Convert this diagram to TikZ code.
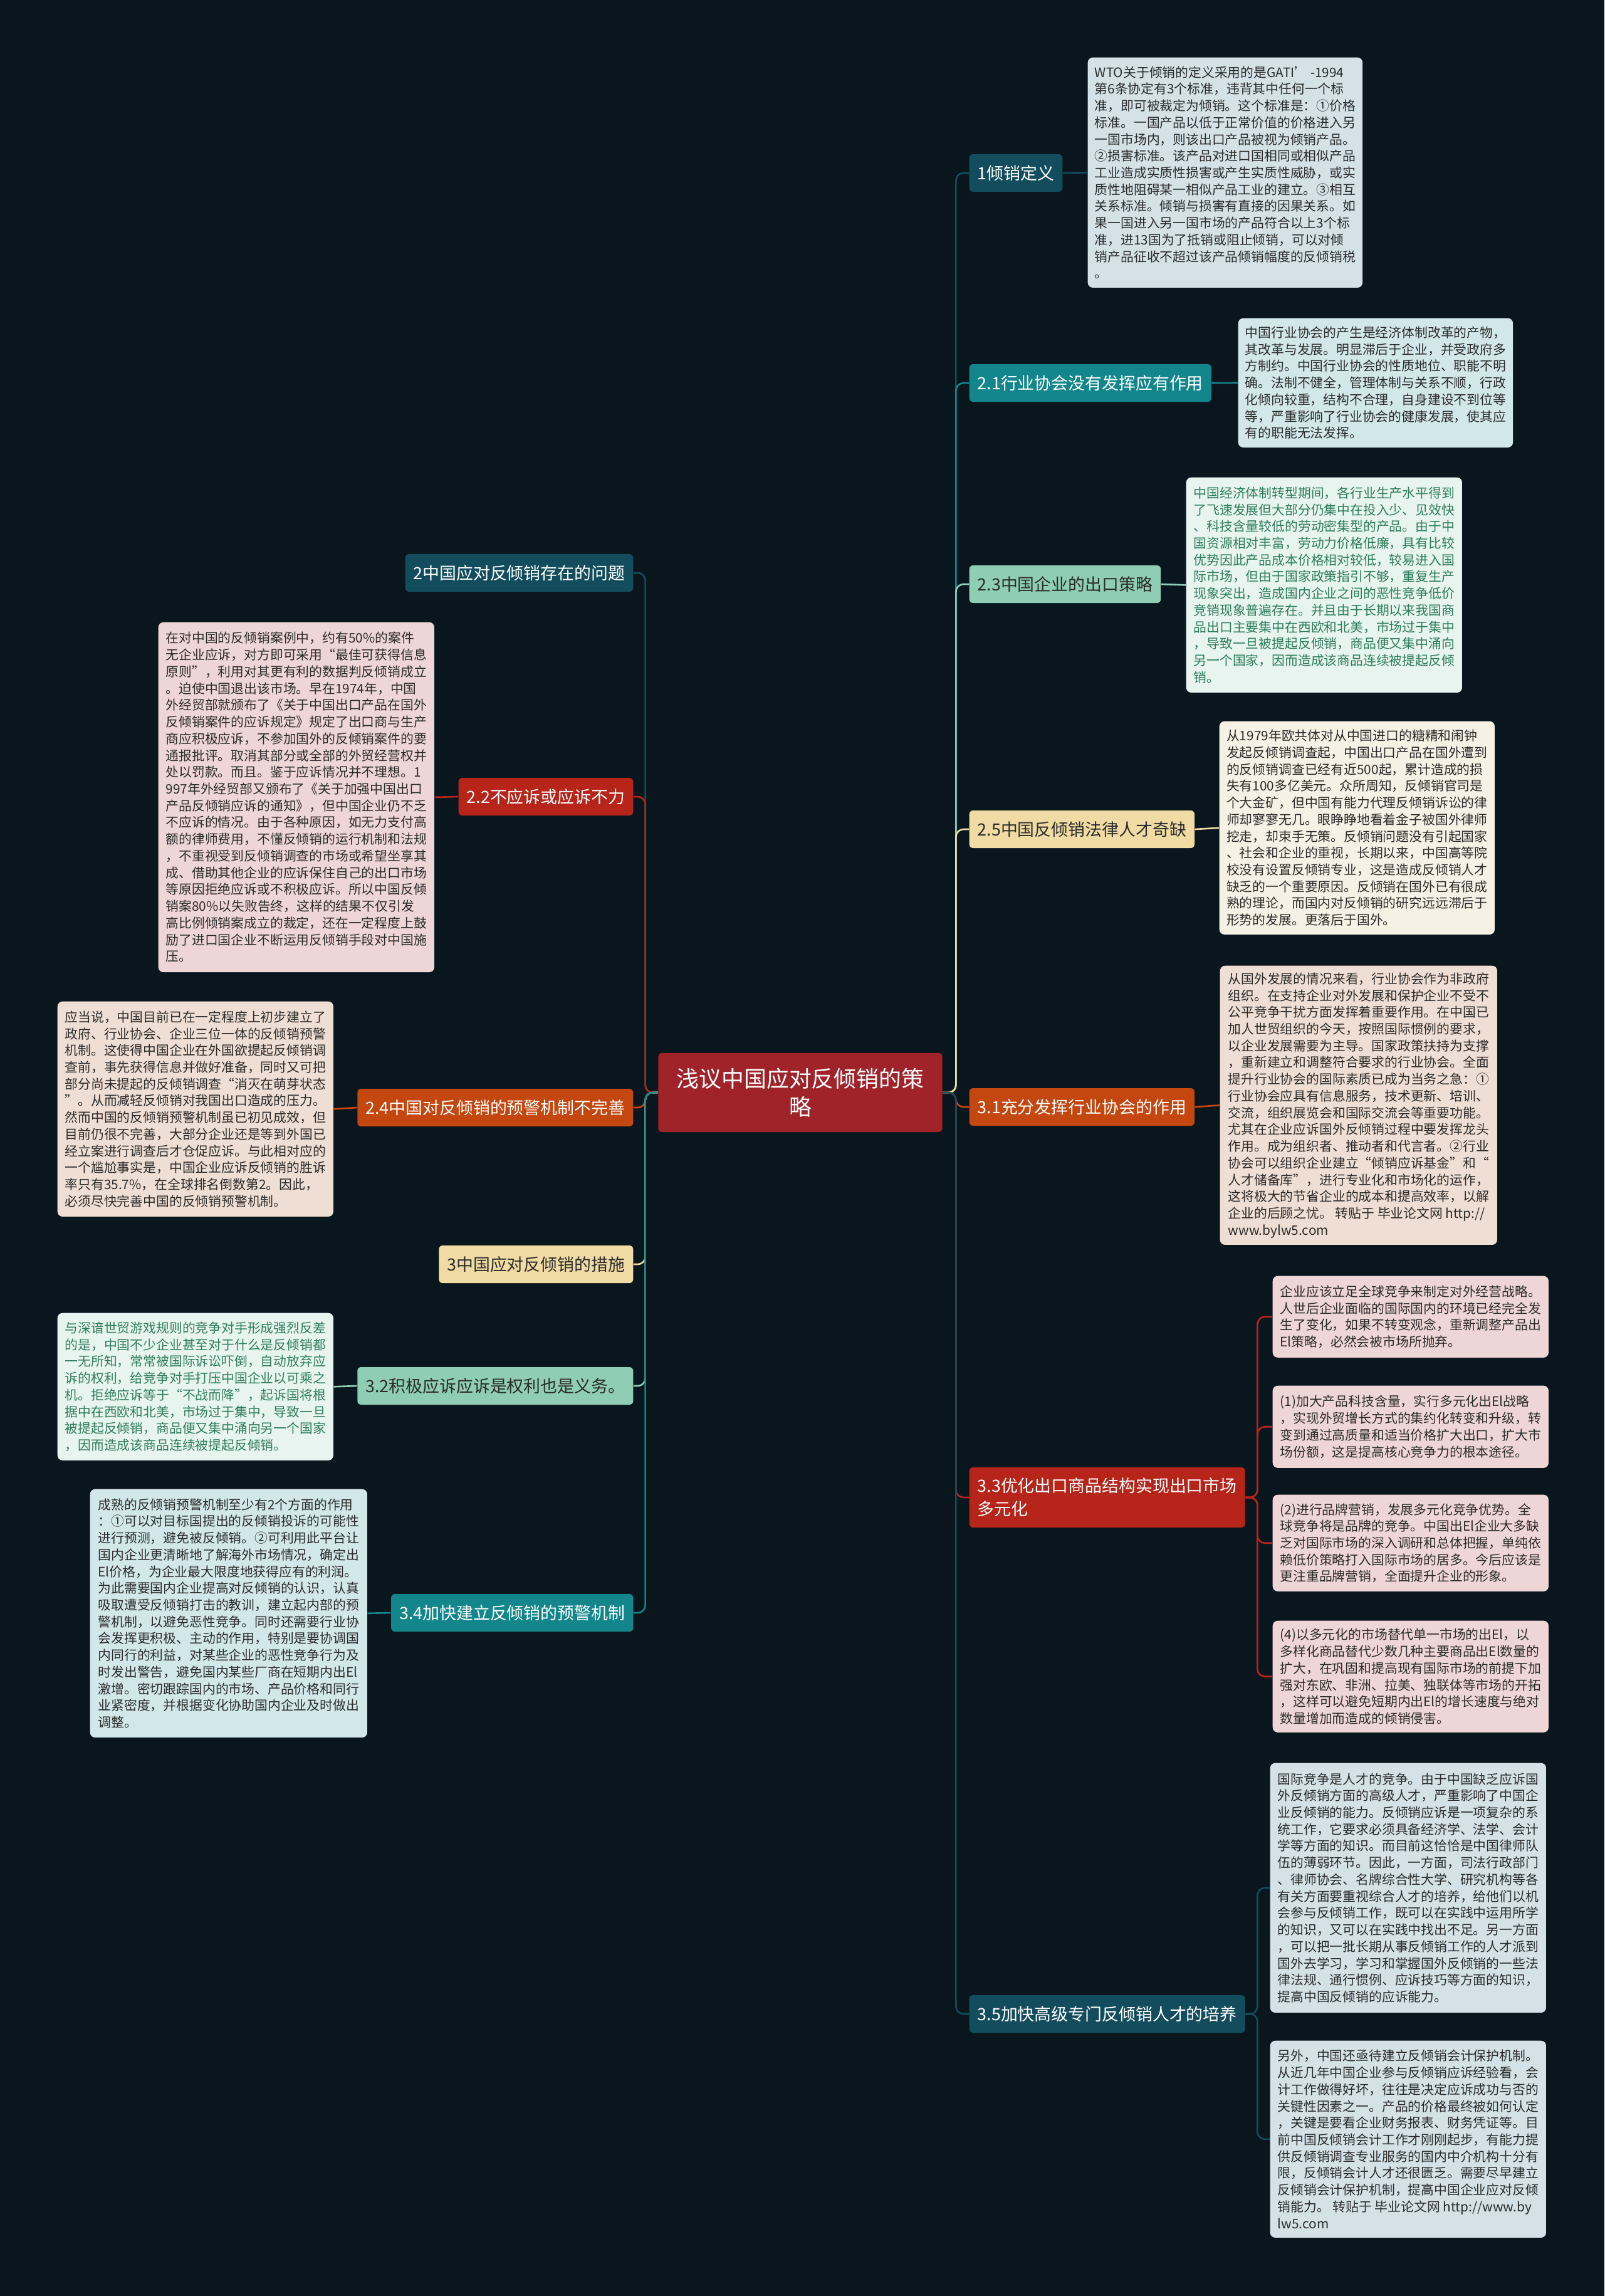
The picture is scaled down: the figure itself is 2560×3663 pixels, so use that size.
\documentclass[tikz,border=0pt]{standalone}
\usepackage{fontspec}
\newfontfamily\cjk{Noto Sans CJK SC}
\usepackage{tikz}
\usetikzlibrary{calc}
\usepackage{xcolor}
\definecolor{bgdark}{HTML}{0A161E}
\definecolor{rootred}{HTML}{A0232A}
\definecolor{darkteal}{HTML}{134D5D}
\definecolor{midteal}{HTML}{12868A}
\definecolor{mint}{HTML}{8FCEB5}
\definecolor{sand}{HTML}{F1DBA4}
\definecolor{rust}{HTML}{C4470F}
\definecolor{brick}{HTML}{B6241A}
\definecolor{inkdark}{HTML}{2B2B2B}
\definecolor{inkgreen}{HTML}{2F7D5C}
\definecolor{paperblue}{HTML}{D4E2E7}
\definecolor{papercyan}{HTML}{D2E7E9}
\definecolor{papermint}{HTML}{E7F4EF}
\definecolor{papercream}{HTML}{F6F1E5}
\definecolor{paperbeige}{HTML}{EFDED4}
\definecolor{paperpink}{HTML}{EFD6D6}
\tikzset{
	root/.style={fill=rootred,text=white,rounded corners=0.06cm,align=center,
		font=\cjk\fontsize{10.2}{13}\selectfont,minimum width=4.53cm,minimum height=1.26cm,inner sep=0pt},
	topic/.style={rounded corners=0.06cm,align=left,inner xsep=0.13cm,inner ysep=0.1cm,
		font=\cjk\fontsize{7.65}{10.5}\selectfont,minimum height=0.6cm},
	dark/.style={text=white},
	light/.style={text=inkdark},
	note/.style={rounded corners=0.08cm,align=left,anchor=north west,inner xsep=0.11cm,inner ysep=0.08cm,
		font=\cjk\fontsize{5.92}{7.6}\selectfont,text=inkdark},
	link/.style={line width=0.75pt,rounded corners=0.12cm}
}
\begin{document}
\begin{tikzpicture}[x=0.01cm,y=-0.01cm]
\fill[bgdark] (0,0) rectangle (2560,3663);
\useasboundingbox (0,0) rectangle (2560,3663);
%
\node[root] (root) at (1277,1743) {浅议中国应对反倾销的策\\略};
%
% right side topics
\node[topic,dark,fill=darkteal,anchor=west] (n1) at (1546,276) {1倾销定义};
\node[topic,dark,fill=midteal,anchor=west] (n21) at (1546,611) {2.1行业协会没有发挥应有作用};
\node[topic,light,fill=mint,anchor=west] (n23) at (1546,932) {2.3中国企业的出口策略};
\node[topic,light,fill=sand,anchor=west] (n25) at (1546,1323) {2.5中国反倾销法律人才奇缺};
\node[topic,dark,fill=rust,anchor=west] (n31) at (1546,1766) {3.1充分发挥行业协会的作用};
\node[topic,dark,fill=brick,anchor=west,minimum height=0.96cm] (n33) at (1546,2389) {3.3优化出口商品结构实现出口市场\\多元化};
\node[topic,dark,fill=darkteal,anchor=west] (n35) at (1546,3213) {3.5加快高级专门反倾销人才的培养};
%
% left side topics
\node[topic,dark,fill=darkteal,anchor=east] (n2) at (1011,914) {2中国应对反倾销存在的问题};
\node[topic,dark,fill=brick,anchor=east] (n22) at (1011,1271) {2.2不应诉或应诉不力};
\node[topic,dark,fill=rust,anchor=east] (n24) at (1011,1767) {2.4中国对反倾销的预警机制不完善};
\node[topic,light,fill=sand,anchor=east] (n3) at (1011,2017) {3中国应对反倾销的措施};
\node[topic,light,fill=mint,anchor=east] (n32) at (1011,2211) {3.2积极应诉应诉是权利也是义务。};
\node[topic,dark,fill=midteal,anchor=east] (n34) at (1011,2573) {3.4加快建立反倾销的预警机制};
%
% notes, right
\node[note,fill=paperblue,minimum width=4.38cm,minimum height=3.67cm] (d1) at (1735,91) {WTO关于倾销的定义采用的是GATI’ -1994\\第6条协定有3个标准，违背其中任何一个标\\准，即可被裁定为倾销。这个标准是：①价格\\标准。一国产品以低于正常价值的价格进入另\\一国市场内，则该出口产品被视为倾销产品。\\②损害标准。该产品对进口国相同或相似产品\\工业造成实质性损害或产生实质性威胁，或实\\质性地阻碍某一相似产品工业的建立。③相互\\关系标准。倾销与损害有直接的因果关系。如\\果一国进入另一国市场的产品符合以上3个标\\准，进13国为了抵销或阻止倾销，可以对倾\\销产品征收不超过该产品倾销幅度的反倾销税\\。};
\node[note,fill=papercyan,minimum width=4.37cm,minimum height=2.06cm] (d2) at (1975,507) {中国行业协会的产生是经济体制改革的产物，\\其改革与发展。明显滞后于企业，并受政府多\\方制约。中国行业协会的性质地位、职能不明\\确。法制不健全，管理体制与关系不顺，行政\\化倾向较重，结构不合理，自身建设不到位等\\等，严重影响了行业协会的健康发展，使其应\\有的职能无法发挥。};
\node[note,fill=papermint,text=inkgreen,minimum width=4.4cm,minimum height=3.43cm] (d3) at (1892,761) {中国经济体制转型期间，各行业生产水平得到\\了飞速发展但大部分仍集中在投入少、见效快\\、科技含量较低的劳动密集型的产品。由于中\\国资源相对丰富，劳动力价格低廉，具有比较\\优势因此产品成本价格相对较低，较易进入国\\际市场，但由于国家政策指引不够，重复生产\\现象突出，造成国内企业之间的恶性竞争低价\\竞销现象普遍存在。并且由于长期以来我国商\\品出口主要集中在西欧和北美，市场过于集中\\，导致一旦被提起反倾销，商品便又集中涌向\\另一个国家，因而造成该商品连续被提起反倾\\销。};
\node[note,fill=papercream,minimum width=4.39cm,minimum height=3.4cm] (d4) at (1945,1150) {从1979年欧共体对从中国进口的糖精和闹钟\\发起反倾销调查起，中国出口产品在国外遭到\\的反倾销调查已经有近500起，累计造成的损\\失有100多亿美元。众所周知，反倾销官司是\\个大金矿，但中国有能力代理反倾销诉讼的律\\师却寥寥无几。眼睁睁地看着金子被国外律师\\挖走，却束手无策。反倾销问题没有引起国家\\、社会和企业的重视，长期以来，中国高等院\\校没有设置反倾销专业，这是造成反倾销人才\\缺乏的一个重要原因。反倾销在国外已有很成\\熟的理论，而国内对反倾销的研究远远滞后于\\形势的发展。更落后于国外。};
\node[note,fill=paperbeige,minimum width=4.42cm,minimum height=4.45cm] (d5) at (1946,1540) {从国外发展的情况来看，行业协会作为非政府\\组织。在支持企业对外发展和保护企业不受不\\公平竞争干扰方面发挥着重要作用。在中国已\\加人世贸组织的今天，按照国际惯例的要求，\\以企业发展需要为主导。国家政策扶持为支撑\\，重新建立和调整符合要求的行业协会。全面\\提升行业协会的国际素质已成为当务之急：①\\行业协会应具有信息服务，技术更新、培训、\\交流，组织展览会和国际交流会等重要功能。\\尤其在企业应诉国外反倾销过程中要发挥龙头\\作用。成为组织者、推动者和代言者。②行业\\协会可以组织企业建立“倾销应诉基金”和“\\人才储备库”，进行专业化和市场化的运作，\\这将极大的节省企业的成本和提高效率，以解\\企业的后顾之忧。 转贴于 毕业论文网 http://\\www.bylw5.com};
\node[note,fill=paperpink,minimum width=4.4cm,minimum height=1.3cm] (d6a) at (2030,2035) {企业应该立足全球竞争来制定对外经营战略。\\人世后企业面临的国际国内的环境已经完全发\\生了变化，如果不转变观念，重新调整产品出\\El策略，必然会被市场所抛弃。};
\node[note,fill=paperpink,minimum width=4.4cm,minimum height=1.31cm] (d6b) at (2030,2210) {(1)加大产品科技含量，实行多元化出El战略\\，实现外贸增长方式的集约化转变和升级，转\\变到通过高质量和适当价格扩大出口，扩大市\\场份额，这是提高核心竞争力的根本途径。};
\node[note,fill=paperpink,minimum width=4.4cm,minimum height=1.54cm] (d6c) at (2030,2384) {(2)进行品牌营销，发展多元化竞争优势。全\\球竞争将是品牌的竞争。中国出El企业大多缺\\乏对国际市场的深入调研和总体把握，单纯依\\赖低价策略打入国际市场的居多。今后应该是\\更注重品牌营销，全面提升企业的形象。};
\node[note,fill=paperpink,minimum width=4.4cm,minimum height=1.78cm] (d6d) at (2030,2585) {(4)以多元化的市场替代单一市场的出El，以\\多样化商品替代少数几种主要商品出El数量的\\扩大，在巩固和提高现有国际市场的前提下加\\强对东欧、非洲、拉美、独联体等市场的开拓\\，这样可以避免短期内出El的增长速度与绝对\\数量增加而造成的倾销侵害。};
\node[note,fill=paperblue,minimum width=4.4cm,minimum height=3.98cm] (d7a) at (2026,2812) {国际竞争是人才的竞争。由于中国缺乏应诉国\\外反倾销方面的高级人才，严重影响了中国企\\业反倾销的能力。反倾销应诉是一项复杂的系\\统工作，它要求必须具备经济学、法学、会计\\学等方面的知识。而目前这恰恰是中国律师队\\伍的薄弱环节。因此，一方面，司法行政部门\\、律师协会、名牌综合性大学、研究机构等各\\有关方面要重视综合人才的培养，给他们以机\\会参与反倾销工作，既可以在实践中运用所学\\的知识，又可以在实践中找出不足。另一方面\\，可以把一批长期从事反倾销工作的人才派到\\国外去学习，学习和掌握国外反倾销的一些法\\律法规、通行惯例、应诉技巧等方面的知识，\\提高中国反倾销的应诉能力。};
\node[note,fill=paperblue,minimum width=4.4cm,minimum height=3.14cm] (d7b) at (2026,3255) {另外，中国还亟待建立反倾销会计保护机制。\\从近几年中国企业参与反倾销应诉经验看，会\\计工作做得好坏，往往是决定应诉成功与否的\\关键性因素之一。产品的价格最终被如何认定\\，关键是要看企业财务报表、财务凭证等。目\\前中国反倾销会计工作才刚刚起步，有能力提\\供反倾销调查专业服务的国内中介机构十分有\\限，反倾销会计人才还很匮乏。需要尽早建立\\反倾销会计保护机制，提高中国企业应对反倾\\销能力。 转贴于 毕业论文网 http://www.by\\lw5.com};
%
% notes, left
\node[note,fill=paperpink,minimum width=4.4cm,minimum height=5.58cm] (d8) at (252,992) {在对中国的反倾销案例中，约有50\%的案件\\无企业应诉，对方即可采用“最佳可获得信息\\原则”，利用对其更有利的数据判反倾销成立\\。迫使中国退出该市场。早在1974年，中国\\外经贸部就颁布了《关于中国出口产品在国外\\反倾销案件的应诉规定》规定了出口商与生产\\商应积极应诉，不参加国外的反倾销案件的要\\通报批评。取消其部分或全部的外贸经营权并\\处以罚款。而且。鉴于应诉情况并不理想。1\\997年外经贸部又颁布了《关于加强中国出口\\产品反倾销应诉的通知》，但中国企业仍不乏\\不应诉的情况。由于各种原因，如无力支付高\\额的律师费用，不懂反倾销的运行机制和法规\\，不重视受到反倾销调查的市场或希望坐享其\\成、借助其他企业的应诉保住自己的出口市场\\等原因拒绝应诉或不积极应诉。所以中国反倾\\销案80\%以失败告终，这样的结果不仅引发\\高比例倾销案成立的裁定，还在一定程度上鼓\\励了进口国企业不断运用反倾销手段对中国施\\压。};
\node[note,fill=paperbeige,minimum width=4.4cm,minimum height=3.43cm] (d9) at (91,1597) {应当说，中国目前已在一定程度上初步建立了\\政府、行业协会、企业三位一体的反倾销预警\\机制。这使得中国企业在外国欲提起反倾销调\\查前，事先获得信息并做好准备，同时又可把\\部分尚未提起的反倾销调查“消灭在萌芽状态\\”。从而减轻反倾销对我国出口造成的压力。\\然而中国的反倾销预警机制虽已初见成效，但\\目前仍很不完善，大部分企业还是等到外国已\\经立案进行调查后才仓促应诉。与此相对应的\\一个尴尬事实是，中国企业应诉反倾销的胜诉\\率只有35.7\%，在全球排名倒数第2。因此，\\必须尽快完善中国的反倾销预警机制。};
\node[note,fill=papermint,text=inkgreen,minimum width=4.4cm,minimum height=2.35cm] (d10) at (91,2094) {与深谙世贸游戏规则的竞争对手形成强烈反差\\的是，中国不少企业甚至对于什么是反倾销都\\一无所知，常常被国际诉讼吓倒，自动放弃应\\诉的权利，给竞争对手打压中国企业以可乘之\\机。拒绝应诉等于“不战而降”，起诉国将根\\据中在西欧和北美，市场过于集中，导致一旦\\被提起反倾销，商品便又集中涌向另一个国家\\，因而造成该商品连续被提起反倾销。};
\node[note,fill=papercyan,minimum width=4.42cm,minimum height=3.96cm] (d11) at (143,2375) {成熟的反倾销预警机制至少有2个方面的作用\\：①可以对目标国提出的反倾销投诉的可能性\\进行预测，避免被反倾销。②可利用此平台让\\国内企业更清晰地了解海外市场情况，确定出\\El价格，为企业最大限度地获得应有的利润。\\为此需要国内企业提高对反倾销的认识，认真\\吸取遭受反倾销打击的教训，建立起内部的预\\警机制，以避免恶性竞争。同时还需要行业协\\会发挥更积极、主动的作用，特别是要协调国\\内同行的利益，对某些企业的恶性竞争行为及\\时发出警告，避免国内某些厂商在短期内出El\\激增。密切跟踪国内的市场、产品价格和同行\\业紧密度，并根据变化协助国内企业及时做出\\调整。};
%
% root to topics
\draw[link,darkteal] (root.east) -- ++(21,0) |- (n1.west);
\draw[link,midteal] (root.east) -- ++(21,0) |- (n21.west);
\draw[link,mint] (root.east) -- ++(21,0) |- (n23.west);
\draw[link,sand] (root.east) -- ++(21,0) |- (n25.west);
\draw[link,rust] (root.east) -- ++(21,0) |- (n31.west);
\draw[link,brick] (root.east) -- ++(21,0) |- (n33.west);
\draw[link,darkteal] (root.east) -- ++(21,0) |- (n35.west);
\draw[link,darkteal] (root.west) -- ++(-20,0) |- (n2.east);
\draw[link,brick] (root.west) -- ++(-20,0) |- (n22.east);
\draw[link,rust] (root.west) -- ++(-20,0) |- (n24.east);
\draw[link,sand] (root.west) -- ++(-20,0) |- (n3.east);
\draw[link,mint] (root.west) -- ++(-20,0) |- (n32.east);
\draw[link,midteal] (root.west) -- ++(-20,0) |- (n34.east);
%
% topics to notes
\draw[link,darkteal] (n1.east) -- (d1.west);
\draw[link,midteal] (n21.east) -- (d2.west);
\draw[link,mint] (n23.east) -- (d3.west);
\draw[link,sand] (n25.east) -- (d4.west);
\draw[link,rust] (n31.east) -- (d5.west);
\draw[link,brick] (n33.east) -- ++(19,0) |- (d6a.west);
\draw[link,brick] (n33.east) -- ++(19,0) |- (d6b.west);
\draw[link,brick] (n33.east) -- ++(19,0) |- (d6c.west);
\draw[link,brick] (n33.east) -- ++(19,0) |- (d6d.west);
\draw[link,darkteal] (n35.east) -- ++(19,0) |- (d7a.west);
\draw[link,darkteal] (n35.east) -- ++(19,0) |- (d7b.west);
\draw[link,brick] (n22.west) -- (d8.east);
\draw[link,rust] (n24.west) -- (d9.east);
\draw[link,mint] (n32.west) -- (d10.east);
\draw[link,midteal] (n34.west) -- (d11.east);
\end{tikzpicture}
\end{document}
